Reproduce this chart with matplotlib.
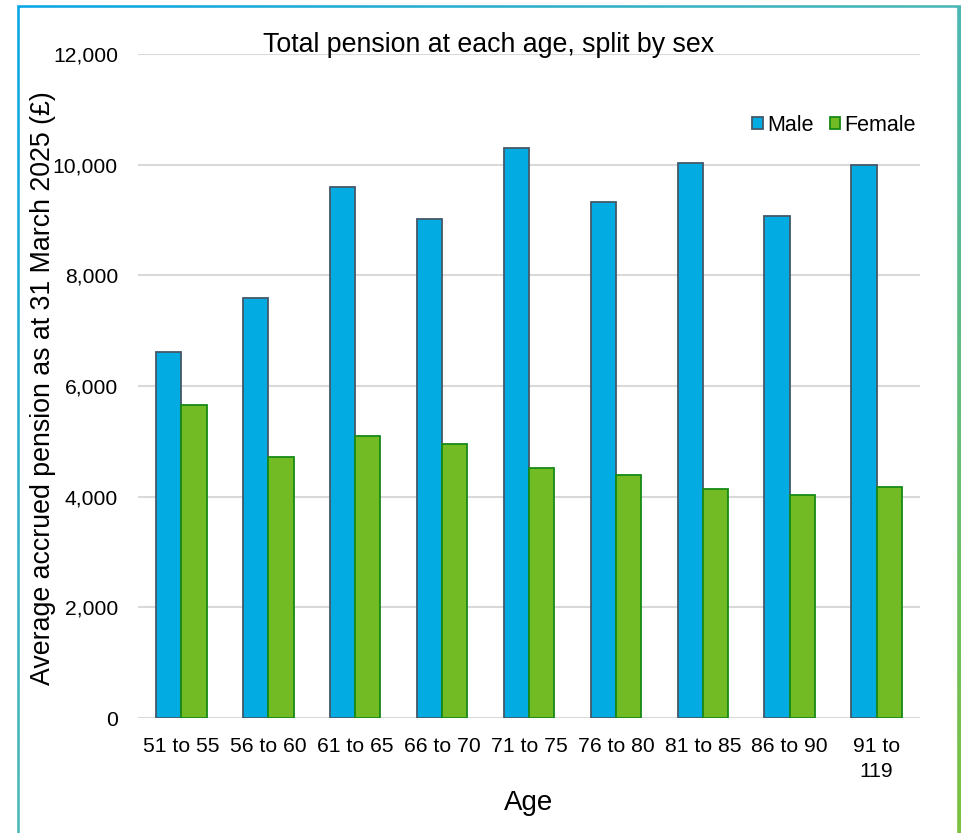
import numpy as np
import matplotlib
matplotlib.use("Agg")
import matplotlib.pyplot as plt
from matplotlib.colors import LinearSegmentedColormap
from matplotlib.patches import Rectangle

plt.rcParams['font.family'] = ['Liberation Sans', 'DejaVu Sans']

age_groups = ["51 to 55", "56 to 60", "61 to 65", "66 to 70", "71 to 75",
              "76 to 80", "81 to 85", "86 to 90", "91 to\n119"]
male = [6620, 7590, 9600, 9020, 10300, 9330, 10030, 9070, 9995]
female = [5660, 4720, 5100, 4950, 4520, 4390, 4140, 4030, 4175]
yticks = [0, 2000, 4000, 6000, 8000, 10000, 12000]

W, H = 962, 833
fig = plt.figure(figsize=(W / 100, H / 100), dpi=100)

# Gradient frame behind the chart
bg = fig.add_axes([0, 0, 1, 1])
bg.set_xlim(0, W)
bg.set_ylim(H, 0)
bg.axis("off")
xx, yy = np.meshgrid(np.linspace(0, 1, 200), np.linspace(0, 1, 200))
grad = (xx + yy) / 2
cmap = LinearSegmentedColormap.from_list("frame", ["#0aa6e6", "#4cb8b6", "#7cc23e"])
bg.imshow(grad, cmap=cmap, extent=[0, W, H, 0], aspect="auto", zorder=0)
bg.add_patch(Rectangle((0, 0), 16, H, color="white", zorder=1))
bg.add_patch(Rectangle((0, 0), W, 4, color="white", zorder=1))
bg.add_patch(Rectangle((20, 8), 936, H, color="white", zorder=1))

ax = fig.add_axes([138 / W, 1 - 718 / H, (920 - 138) / W, (718 - 54) / H])
ax.set_facecolor("none")
x = np.arange(len(age_groups))
bw = 0.29
ax.bar(x - bw / 2, male, bw, color="#02ace2", edgecolor="#44586a", linewidth=1.3,
       label="Male", zorder=3)
ax.bar(x + bw / 2, female, bw, color="#72bb24", edgecolor="#168a16", linewidth=1.3,
       label="Female", zorder=3)

ax.set_ylim(0, 12000)
ax.set_xlim(-0.5, len(age_groups) - 0.5)
ax.set_yticks(yticks)
ax.set_yticklabels([f"{v:,}" for v in yticks], fontsize=15.2)
ax.set_xticks(x)
ax.set_xticklabels(age_groups, fontsize=15.2, linespacing=1.35)
ax.tick_params(axis="y", length=0, pad=14.4)
ax.tick_params(axis="x", length=0, pad=14)
ax.grid(axis="y", color="#d9d9d9", linewidth=1.5, zorder=0)
for s in ax.spines.values():
    s.set_visible(False)

fig.text(43 / W, 1 - 388 / H, "Average accrued pension as at 31 March 2025 (£)",
         fontsize=19.3, rotation=90, ha="center", va="center")
fig.text(529 / W, 1 - 803 / H, "Age", fontsize=20, ha="center", va="center")
fig.text(489 / W, 1 - 45 / H, "Total pension at each age, split by sex", fontsize=19.3,
         ha="center", va="center")

leg = ax.legend(loc="upper right", bbox_to_anchor=(1.006, 0.921), ncol=2, frameon=False,
                fontsize=15.5, handlelength=0.47, handleheight=0.47, handletextpad=0.2,
                columnspacing=0.78, borderaxespad=0)

fig.savefig("out.png", dpi=100)
